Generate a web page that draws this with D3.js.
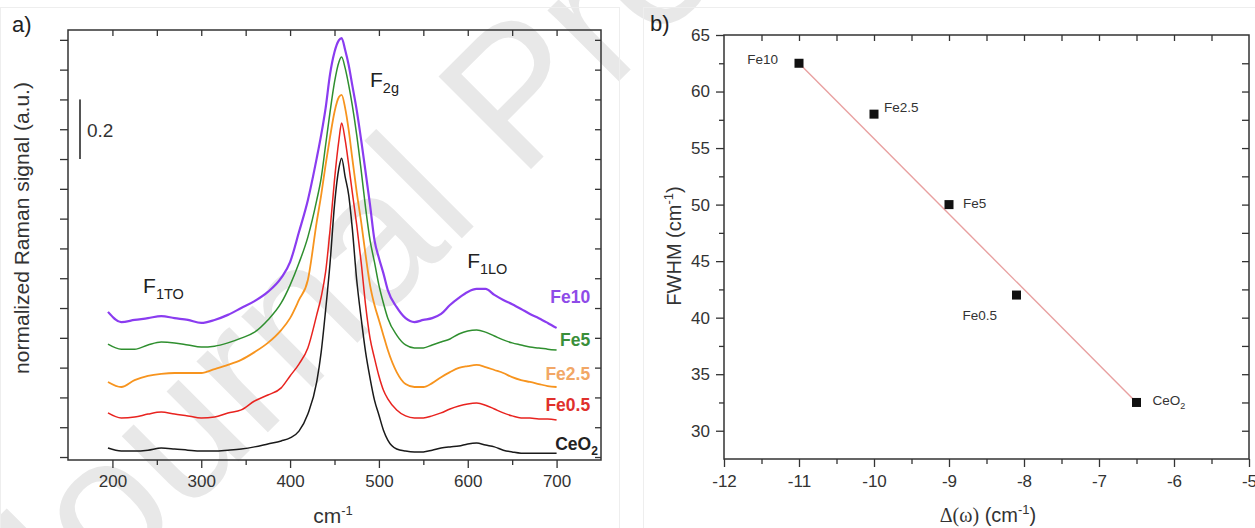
<!DOCTYPE html>
<html>
<head>
<meta charset="utf-8">
<script src="https://cdn.jsdelivr.net/npm/d3@7"></script>
<style>
  body { margin: 0; background: #fff; }
  svg text { font-family: "Liberation Sans", Arial, sans-serif; }
</style>
</head>
<body>
<script>
const width = 1255, height = 528;

// ---- panel a : Raman spectra (normalized, stacked) ----
const wavenumber = [195, 210, 225, 240, 255, 270, 285, 300, 315, 330, 345, 360, 375, 390,
  400, 410, 420, 430, 435, 440, 445, 450, 455, 458,
  462, 466, 470, 475, 480, 485, 490, 495, 500, 505, 510,
  520, 530, 540, 550, 560, 570, 580, 590, 600, 610, 620, 630, 640, 650, 660, 670, 680, 690, 700];

const specCeO2 = [.030, .020, .020, .023, .030, .027, .023, .020, .020, .023, .027, .034, .044, .054,
  .064, .087, .144, .252, .352, .493, .651, .846, .970, 1.003,
  .940, .879, .768, .594, .466, .352, .265, .191, .141, .091, .057,
  .027, .020, .017, .017, .023, .030, .034, .037, .044, .047, .040, .034, .023, .017, .013, .013, .013, .013, .013];

const specFe05 = [.148, .131, .134, .144, .151, .144, .138, .131, .134, .148, .158, .188, .208, .232,
  .272, .312, .366, .477, .537, .621, .762, .930, 1.064, 1.121,
  1.064, .980, .889, .779, .654, .510, .399, .332, .272, .225, .195,
  .158, .138, .131, .131, .138, .148, .161, .171, .178, .181, .174, .161, .148, .138, .131, .131, .128, .128, .124];

const specFe25 = [.252, .235, .258, .272, .279, .282, .282, .282, .295, .309, .326, .352, .383, .426,
  .466, .527, .594, .789, .879, .980, 1.074, 1.158, 1.208, 1.215,
  1.171, 1.097, 1.003, .889, .789, .678, .577, .510, .460, .409, .359,
  .285, .245, .235, .235, .248, .268, .285, .299, .305, .309, .302, .292, .282, .268, .258, .252, .245, .238, .235];

const specFe5 = [.379, .362, .362, .376, .386, .383, .376, .369, .372, .383, .399, .419, .460, .517,
  .577, .651, .738, .862, .936, 1.047, 1.158, 1.258, 1.326, 1.342,
  1.305, 1.248, 1.181, 1.081, .963, .836, .728, .654, .577, .517, .466,
  .409, .376, .366, .366, .376, .386, .396, .413, .423, .426, .419, .406, .393, .383, .376, .369, .366, .362, .359];

const specFe10 = [.487, .453, .460, .466, .473, .466, .460, .450, .460, .477, .500, .523, .554, .601,
  .654, .755, .862, 1.003, 1.081, 1.171, 1.285, 1.359, 1.399, 1.406,
  1.366, 1.315, 1.248, 1.164, 1.064, .956, .846, .728, .668, .617, .560,
  .503, .466, .453, .460, .466, .480, .510, .534, .554, .564, .564, .544, .527, .513, .497, .480, .466, .450, .433];

const spectraNames = ["Fe10", "Fe5", "Fe2.5", "Fe0.5", "CeO2"];
const spectraValues = [specFe10, specFe5, specFe25, specFe05, specCeO2];
const spectraColors = ["#8a3cf0", "#2f8f2f", "#f7941e", "#e8231f", "#1a1a1a"];
const labelColors = ["#8e4be8", "#3a8f3a", "#f2a766", "#e0302c", "#222222"];
const labelLevels = [0.517, 0.372, 0.258, 0.154, 0.023];
const ticksA = [200, 300, 400, 500, 600, 700];

// ---- panel b : FWHM vs shift ----
const shiftOmega = [-11, -10, -9, -8.1, -6.5];
const fwhmValues = [62.5, 58, 50, 42, 32.5];
const sampleNames = ["Fe10", "Fe2.5", "Fe5", "Fe0.5", "CeO2"];
const fitShift = [-11, -6.5];
const fitFwhm = [62.5, 32.5];
const ticksB = [-12, -11, -10, -9, -8, -7, -6, -5];

const svg = d3.select("body").append("svg")
    .attr("width", width)
    .attr("height", height);

// watermark
svg.append("text")
    .attr("transform", "translate(42,658) rotate(-45)")
    .style("font-size", "190px")
    .style("fill", "#e8e8e8")
    .text("Journal Pre-proof");

// faint panel borders
svg.append("rect").attr("x", 0.5).attr("y", 7.5).attr("width", 619).attr("height", 530)
    .attr("fill", "none").attr("stroke", "#eeeeee");
svg.append("rect").attr("x", 643.5).attr("y", 7.5).attr("width", 620).attr("height", 530)
    .attr("fill", "none").attr("stroke", "#eeeeee");

function cleanAxis(g, fs) {
  g.attr("font-size", null).attr("font-family", null);
  g.select(".domain").remove();
  g.selectAll("line").attr("stroke", "#333").attr("stroke-width", 1.3);
  g.selectAll("text").attr("fill", "#333").style("font-size", fs || "17px");
}

// ================= panel a =================
const xA = d3.scaleLinear().domain([150, 750]).range([68, 601]);
const yA = d3.scaleLinear().domain([-0.01, 1.433]).range([460, 30]);
const pa = svg.append("g");

pa.append("g").attr("transform", "translate(0,460)")
    .call(d3.axisBottom(xA).tickValues(ticksA).tickSize(8).tickPadding(7).tickSizeOuter(0))
    .call(g => cleanAxis(g));
pa.append("g").attr("transform", "translate(0,460)")
    .call(d3.axisBottom(xA).tickValues([250, 350, 450, 550, 650]).tickSize(5).tickFormat(""))
    .call(g => cleanAxis(g));
pa.append("g").attr("transform", "translate(0,30)")
    .call(d3.axisTop(xA).tickValues(d3.range(200, 750, 50)).tickSize(-6).tickFormat(""))
    .call(g => cleanAxis(g));
pa.append("g").attr("transform", "translate(68,0)")
    .call(d3.axisLeft(yA).tickValues(d3.range(0, 1.45, 0.1)).tickSize(8).tickFormat(""))
    .call(g => cleanAxis(g));
pa.append("g").attr("transform", "translate(601,0)")
    .call(d3.axisRight(yA).tickValues(d3.range(0, 1.45, 0.1)).tickSize(-6).tickFormat(""))
    .call(g => cleanAxis(g));

pa.append("rect").attr("x", 68).attr("y", 30).attr("width", 533).attr("height", 430)
    .attr("fill", "none").attr("stroke", "#333").attr("stroke-width", 1.5);

const lineA = d3.line()
    .x((d, i) => xA(wavenumber[i]))
    .y(d => yA(d))
    .curve(d3.curveMonotoneX);

pa.selectAll("path.spec")
    .data(spectraValues)
    .enter().append("path")
    .attr("class", "spec")
    .attr("d", lineA)
    .attr("fill", "none")
    .attr("stroke", (d, i) => spectraColors[i])
    .attr("stroke-width", (d, i) => i === 0 ? 2.2 : (i === 2 ? 1.8 : 1.5))
    .attr("stroke-linejoin", "round");

// sample labels
spectraNames.forEach(function(name, i) {
  const t = pa.append("text")
      .attr("y", yA(labelLevels[i]))
      .style("font-size", "17.5px")
      .style("font-weight", "bold")
      .style("fill", labelColors[i]);
  if (name === "CeO2") {
    t.attr("x", xA(698.4));
    t.append("tspan").text("CeO");
    t.append("tspan").attr("dy", 5).style("font-size", "12px").text("2");
  } else {
    t.attr("x", xA(737.8)).attr("text-anchor", "end").text(name);
  }
});

// peak annotations
function peakLabel(x, y, sub) {
  const t = pa.append("text").attr("x", xA(x)).attr("y", yA(y))
      .style("font-size", "21px").style("fill", "#222");
  t.append("tspan").text("F");
  t.append("tspan").attr("dy", 6).style("font-size", "14.5px").text(sub);
}
peakLabel(234.5, 0.550, "1TO");
peakLabel(490, 1.242, "2g");
peakLabel(599.3, 0.634, "1LO");

// scale bar 0.2
pa.append("line")
    .attr("x1", xA(163.5)).attr("x2", xA(163.5))
    .attr("y1", yA(1.0)).attr("y2", yA(1.2))
    .attr("stroke", "#555").attr("stroke-width", 2);
pa.append("text").attr("x", xA(171.4)).attr("y", yA(1.074))
    .style("font-size", "19px").style("fill", "#333").text("0.2");

// titles
pa.append("text").attr("x", 12).attr("y", 32)
    .style("font-size", "22px").style("fill", "#222").text("a)");
pa.append("text")
    .attr("transform", "translate(29,228) rotate(-90)")
    .attr("text-anchor", "middle")
    .style("font-size", "21px").style("fill", "#333")
    .text("normalized Raman signal (a.u.)");
const cmA = pa.append("text").attr("x", 333).attr("y", 523).attr("text-anchor", "middle")
    .style("font-size", "21px").style("fill", "#333");
cmA.append("tspan").text("cm");
cmA.append("tspan").attr("dy", -8).style("font-size", "13px").text("-1");

// ================= panel b =================
const xB = d3.scaleLinear().domain([-12, -5]).range([724, 1249]);
const yB = d3.scaleLinear().domain([27.5, 65]).range([459, 35]);
const pb = svg.append("g");

pb.append("g").attr("transform", "translate(0,459)")
    .call(d3.axisBottom(xB).tickValues(ticksB).tickFormat(d => String(d)).tickSize(8).tickPadding(8).tickSizeOuter(0))
    .call(g => cleanAxis(g, "17px"));
pb.append("g").attr("transform", "translate(0,459)")
    .call(d3.axisBottom(xB).tickValues(d3.range(-11.5, -5, 1)).tickSize(5).tickFormat(""))
    .call(g => cleanAxis(g));
pb.append("g").attr("transform", "translate(0,35)")
    .call(d3.axisTop(xB).tickValues(d3.range(-11.5, -5, 0.5)).tickSize(-6).tickFormat(""))
    .call(g => cleanAxis(g));
pb.append("g").attr("transform", "translate(724,0)")
    .call(d3.axisLeft(yB).tickValues(d3.range(30, 66, 5)).tickFormat(d => String(d)).tickSize(8).tickPadding(6).tickSizeOuter(0))
    .call(g => cleanAxis(g, "17px"));
pb.append("g").attr("transform", "translate(724,0)")
    .call(d3.axisLeft(yB).tickValues(d3.range(32.5, 65, 5)).tickSize(5).tickFormat(""))
    .call(g => cleanAxis(g));
pb.append("g").attr("transform", "translate(1249,0)")
    .call(d3.axisRight(yB).tickValues(d3.range(30, 65, 2.5)).tickSize(-7).tickFormat(""))
    .call(g => cleanAxis(g));

pb.append("rect").attr("x", 724).attr("y", 35).attr("width", 525).attr("height", 424)
    .attr("fill", "none").attr("stroke", "#333").attr("stroke-width", 1.5);

// fit line
pb.append("path")
    .datum(fitShift)
    .attr("d", d3.line().x(d => xB(d)).y((d, i) => yB(fitFwhm[i])))
    .attr("stroke", "#e8a0a0").attr("stroke-width", 1.4).attr("fill", "none");

// squares
pb.selectAll("rect.pt")
    .data(shiftOmega)
    .enter().append("rect")
    .attr("class", "pt")
    .attr("x", d => xB(d) - 4.5)
    .attr("y", (d, i) => yB(fwhmValues[i]) - 4.5)
    .attr("width", 9).attr("height", 9)
    .attr("fill", "#111");

// point labels: offsets in px relative to the marker
const ptLabelOffset = [[-21, 1, "end"], [10, -2, "start"], [14, 3, "start"], [-54, 25, "start"], [16, 3, "start"]];
sampleNames.forEach(function(name, i) {
  const t = pb.append("text")
      .attr("x", xB(shiftOmega[i]) + ptLabelOffset[i][0])
      .attr("y", yB(fwhmValues[i]) + ptLabelOffset[i][1])
      .attr("text-anchor", ptLabelOffset[i][2])
      .style("font-size", "13.5px").style("fill", "#333");
  if (name === "CeO2") {
    t.append("tspan").text("CeO");
    t.append("tspan").attr("dy", 4).style("font-size", "9px").text("2");
  } else {
    t.text(name);
  }
});

pb.append("text").attr("x", 650).attr("y", 31)
    .style("font-size", "22px").style("fill", "#222").text("b)");

const fw = pb.append("text")
    .attr("transform", "translate(681,246) rotate(-90)")
    .attr("text-anchor", "middle")
    .style("font-size", "20px").style("fill", "#333");
fw.append("tspan").text("FWHM (cm");
fw.append("tspan").attr("dy", -8).style("font-size", "13px").text("-1");
fw.append("tspan").attr("dy", 8).text(")");

const dw = pb.append("text").attr("x", 988).attr("y", 522).attr("text-anchor", "middle")
    .style("font-size", "20px").style("fill", "#333");
dw.append("tspan").style("font-family", "'Liberation Serif', 'DejaVu Serif', serif").text("\u0394(\u03c9)");
dw.append("tspan").text(" (cm");
dw.append("tspan").attr("dy", -8).style("font-size", "13px").text("-1");
dw.append("tspan").attr("dy", 8).text(")");
</script>
</body>
</html>
